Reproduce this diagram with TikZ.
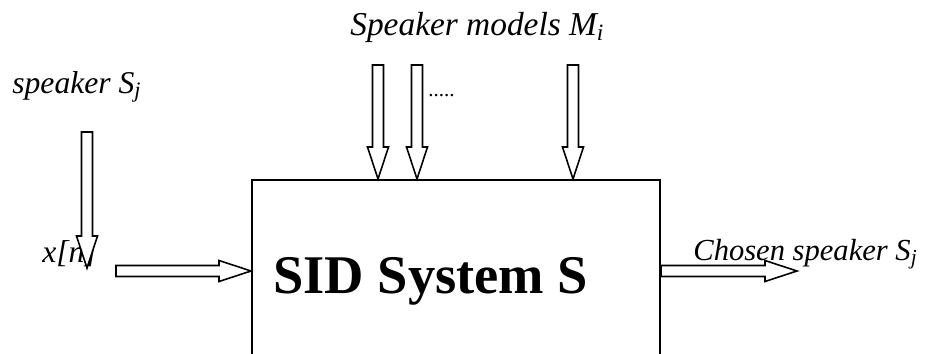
\documentclass[tikz,border=0pt]{standalone}
\usepackage{fontspec}
\setmainfont{Liberation Serif}
\usetikzlibrary{calc}

% hollow block arrow between two points
\tikzset{
  fat/.style={draw, fill=white, line width=0.9pt, line join=miter,
    to path={-- ($(\tikztostart)!0.11cm!90:(\tikztotarget)$)
      -- ($(\tikztotarget)!0.64cm!(\tikztostart)!0.11cm!90:(\tikztotarget)$)
      -- ($(\tikztotarget)!0.64cm!(\tikztostart)!0.21cm!90:(\tikztotarget)$)
      -- (\tikztotarget)
      -- ($(\tikztotarget)!0.64cm!(\tikztostart)!0.21cm!-90:(\tikztotarget)$)
      -- ($(\tikztotarget)!0.64cm!(\tikztostart)!0.11cm!-90:(\tikztotarget)$)
      -- ($(\tikztostart)!0.11cm!-90:(\tikztotarget)$)
      -- cycle}},
  lbl/.style={anchor=base west, inner sep=0pt, font=\fontsize{18}{20}\selectfont\itshape},
}

\begin{document}
\begin{tikzpicture}
        \useasboundingbox (0,0) rectangle (18.62,7.06);
        % the system block runs off the bottom edge
        \node (sid) [draw, line width=1.1pt, inner sep=0pt,
          minimum width=8.16cm, minimum height=3.64cm] at (9.12,1.64) {};
        \node (sidlabel) [anchor=base west, inner sep=0pt,
          font=\fontsize{31}{34}\selectfont\bfseries] at (5.46,1.2) {SID System S};
        % input side
        \node (spk) [lbl] at (0.24,5.2) {speaker S\textsubscript{j}};
        \node (xn) [lbl] at (0.84,1.82) {x[n]};
        \coordinate (spktop) at (1.74,4.42);
        \coordinate (spkend) at (1.74,1.70);
        \draw [fat] (spktop) to (spkend);
        \coordinate (xin) at (2.32,1.64);
        \draw [fat] (xin) to (sid.west);
        % speaker models
        \node (models) [lbl, font=\fontsize{19}{21}\selectfont\itshape] at (7.0,6.36)
          {Speaker models M\textsubscript{i}};
        \foreach \x [count=\i] in {7.56,8.34,11.46} {
          \coordinate (m\i) at (\x,5.76);
          \draw [fat] (m\i) to (m\i |- sid.north);
        }
        \node (dots) [anchor=base west, inner sep=0pt,
          font=\fontsize{12}{14}\selectfont] at (8.56,5.14) {.....};
        % output
        \coordinate (out) at (15.94,1.64);
        \draw [fat] (sid.east) to (out);
        \node (chosen) [lbl, font=\fontsize{17.4}{20}\selectfont\itshape] at (13.86,1.86)
          {Chosen speaker S\textsubscript{j}};
      \end{tikzpicture}
\end{document}
